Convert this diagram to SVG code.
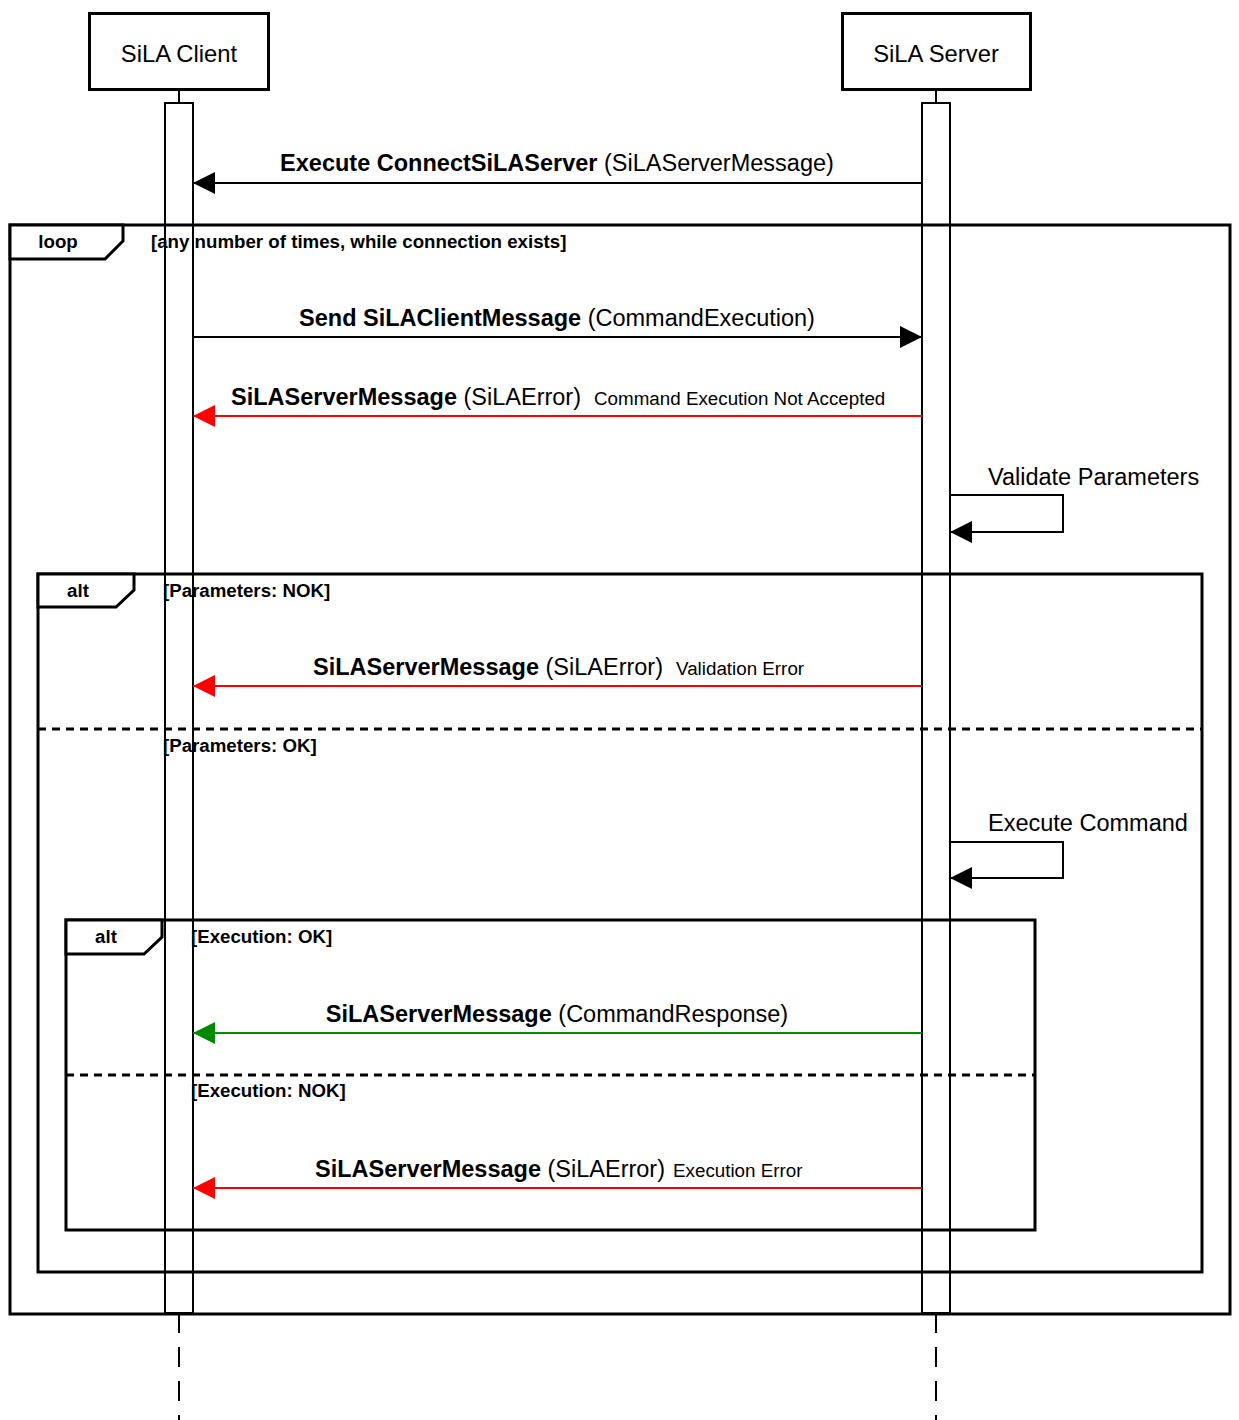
<svg xmlns="http://www.w3.org/2000/svg" width="1239" height="1420" viewBox="0 0 1239 1420">
<style>
text{font-family:"Liberation Sans",Arial,sans-serif;fill:#000}
.title{font-size:23.8px}
.msg{font-size:23.5px}
.b{font-weight:bold}
.note{font-size:18.8px}
.cond{font-size:18.7px;font-weight:bold}
.frame{fill:none;stroke:#000;stroke-width:3}
.tab{fill:#fff;stroke:#000;stroke-width:3}
.sep{stroke:#000;stroke-width:3;stroke-dasharray:8 6}
.act{fill:none;stroke:#000;stroke-width:2}
.life{stroke:#000;stroke-width:2}
.dash{stroke:#000;stroke-width:2;stroke-dasharray:20 14}
.m{fill:none;stroke-width:2}
.k{stroke:#000}
.r{stroke:#ff0000}
.g{stroke:#008a00}
</style>
<defs>
<marker id="ak" viewBox="0 0 22 22" refX="22" refY="11" markerWidth="22" markerHeight="22" markerUnits="userSpaceOnUse" orient="auto"><path d="M0,0 L22,11 L0,22 Z" fill="#000"/></marker>
<marker id="ar" viewBox="0 0 22 22" refX="22" refY="11" markerWidth="22" markerHeight="22" markerUnits="userSpaceOnUse" orient="auto"><path d="M0,0 L22,11 L0,22 Z" fill="#ff0000"/></marker>
<marker id="ag" viewBox="0 0 22 22" refX="22" refY="11" markerWidth="22" markerHeight="22" markerUnits="userSpaceOnUse" orient="auto"><path d="M0,0 L22,11 L0,22 Z" fill="#008a00"/></marker>
</defs>
<rect width="1239" height="1420" fill="#fff"/>

<g id="frame-loop">
<rect class="frame" x="10" y="225" width="1220" height="1089"/>
<path class="tab" d="M10,225 H123 V241 L105,259 H10 Z"/>
<text class="cond" x="58" y="248" text-anchor="middle">loop</text>
<text class="cond" x="151" y="248">[any number of times, while connection exists]</text>
</g>

<g id="frame-alt-params">
<rect class="frame" x="38" y="574" width="1164" height="698"/>
<path class="tab" d="M38,574 H134 V590 L116,607 H38 Z"/>
<text class="cond" x="78" y="597" text-anchor="middle">alt</text>
<text class="cond" x="163" y="597">[Parameters: NOK]</text>
<line class="sep" x1="38" y1="729" x2="1202" y2="729"/>
<text class="cond" x="163" y="752">[Parameters: OK]</text>
</g>

<g id="frame-alt-exec">
<rect class="frame" x="66" y="920" width="969" height="310"/>
<path class="tab" d="M66,920 H162 V937 L144,954 H66 Z"/>
<text class="cond" x="106" y="943" text-anchor="middle">alt</text>
<text class="cond" x="191" y="943">[Execution: OK]</text>
<line class="sep" x1="66" y1="1075" x2="1035" y2="1075"/>
<text class="cond" x="191" y="1097">[Execution: NOK]</text>
</g>

<g id="client">
<rect x="89.5" y="13.5" width="179" height="76" fill="#fff" stroke="#000" stroke-width="3"/>
<text class="title" x="179" y="62" text-anchor="middle">SiLA Client</text>
<line class="life" x1="179" y1="90" x2="179" y2="103"/>
<rect class="act" x="165" y="103" width="28" height="1210"/>
<line class="dash" x1="179" y1="1313" x2="179" y2="1420"/>
</g>

<g id="server">
<rect x="842.5" y="13.5" width="188" height="76" fill="#fff" stroke="#000" stroke-width="3"/>
<text class="title" x="936" y="62" text-anchor="middle">SiLA Server</text>
<line class="life" x1="936" y1="90" x2="936" y2="103"/>
<rect class="act" x="922" y="103" width="28" height="1210"/>
<line class="dash" x1="936" y1="1313" x2="936" y2="1420"/>
</g>

<g id="connectors">
<line class="m k" x1="922" y1="183" x2="193" y2="183" marker-end="url(#ak)"/>
<text class="msg" x="557" y="171" text-anchor="middle"><tspan class="b">Execute ConnectSiLAServer</tspan> (SiLAServerMessage)</text>

<line class="m k" x1="193" y1="337" x2="922" y2="337" marker-end="url(#ak)"/>
<text class="msg" x="557" y="326" text-anchor="middle"><tspan class="b">Send SiLAClientMessage</tspan> (CommandExecution)</text>

<line class="m r" x1="922" y1="416" x2="193" y2="416" marker-end="url(#ar)"/>
<text class="msg" x="231" y="405"><tspan class="b">SiLAServerMessage</tspan> (SiLAError)<tspan class="note" dx="13">Command Execution Not Accepted</tspan></text>

<path class="m k" d="M950,495 H1063 V532 H950" marker-end="url(#ak)"/>
<text class="msg" x="988" y="485">Validate Parameters</text>

<line class="m r" x1="922" y1="686" x2="193" y2="686" marker-end="url(#ar)"/>
<text class="msg" x="313" y="675"><tspan class="b">SiLAServerMessage</tspan> (SiLAError)<tspan class="note" dx="13">Validation Error</tspan></text>

<path class="m k" d="M950,842 H1063 V878 H950" marker-end="url(#ak)"/>
<text class="msg" x="988" y="831">Execute Command</text>

<line class="m g" x1="922" y1="1033" x2="193" y2="1033" marker-end="url(#ag)"/>
<text class="msg" x="557" y="1022" text-anchor="middle"><tspan class="b">SiLAServerMessage</tspan> (CommandResponse)</text>

<line class="m r" x1="922" y1="1188" x2="193" y2="1188" marker-end="url(#ar)"/>
<text class="msg" x="315" y="1177"><tspan class="b">SiLAServerMessage</tspan> (SiLAError)<tspan class="note" dx="8">Execution Error</tspan></text>
</g>
</svg>
